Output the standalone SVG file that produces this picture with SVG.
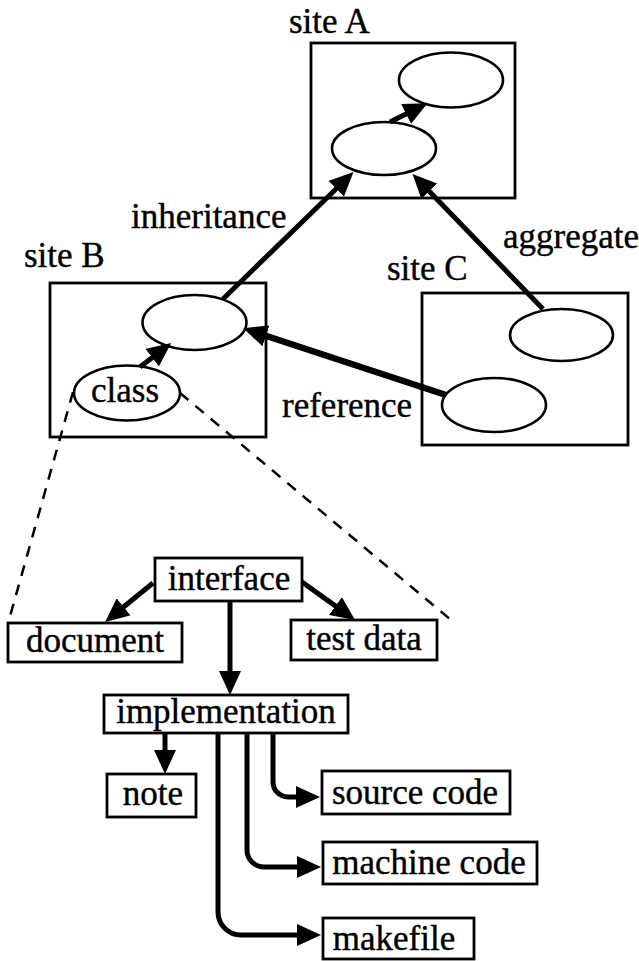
<svg xmlns="http://www.w3.org/2000/svg" width="639" height="961" viewBox="0 0 639 961">
<style>
text{font-family:"Liberation Serif","Times New Roman",serif;font-size:35px;fill:#000;stroke:#000;stroke-width:0.4}
.c{text-anchor:middle}
.box{fill:#fff;stroke:#000;stroke-width:2.8}
.ell{fill:#fff;stroke:#000;stroke-width:2.6}
.ln{fill:none;stroke:#000;stroke-width:5;marker-end:url(#ah)}
.dash{fill:none;stroke:#000;stroke-width:2.5;stroke-dasharray:11 9}
</style>
<defs>
<marker id="ah" markerUnits="userSpaceOnUse" markerWidth="26" markerHeight="22" refX="1" refY="11" orient="auto" viewBox="0 0 26 22">
<path d="M0,0 L24,11 L0,22 z" fill="#000"/>
</marker>
</defs>
<rect width="639" height="961" fill="#fff"/>

<g id="siteA">
<text x="289" y="33">site A</text>
<rect class="box" x="311" y="43" width="204" height="155"/>
</g>
<g id="siteB">
<text x="24" y="267">site B</text>
<rect class="box" x="50" y="283" width="216" height="154"/>
</g>
<g id="siteC">
<text x="387" y="280">site C</text>
<rect class="box" x="422" y="293" width="206" height="152"/>
</g>
<g id="labels">
<text x="131" y="228">inheritance</text>
<text x="503" y="248">aggregate</text>
<text x="282" y="417">reference</text>
</g>

<g id="dashes">
<path class="dash" d="M73,392 L9,620"/>
<path class="dash" d="M180,393 L451,620"/>
</g>

<g id="a-upper"><ellipse class="ell" cx="451" cy="80" rx="52" ry="27.5"/></g>
<g id="a-lower"><ellipse class="ell" cx="384" cy="148.5" rx="52" ry="26.5"/></g>
<g id="b-main"><ellipse class="ell" cx="194.5" cy="322.5" rx="52" ry="27.5"/></g>
<g id="class"><ellipse class="ell" cx="127" cy="393" rx="53" ry="27.5"/><text class="c" x="125" y="402">class</text></g>
<g id="c-upper"><ellipse class="ell" cx="561.5" cy="335" rx="51.5" ry="26"/></g>
<g id="c-lower"><ellipse class="ell" cx="494" cy="405" rx="52" ry="27"/></g>

<g id="interface"><rect class="box" x="155" y="558" width="147" height="43"/><text class="c" x="229" y="590">interface</text></g>
<g id="document"><rect class="box" x="8" y="623" width="174" height="39"/><text class="c" x="95" y="652">document</text></g>
<g id="testdata"><rect class="box" x="291" y="620" width="146" height="40"/><text class="c" x="364" y="650">test data</text></g>
<g id="implementation"><rect class="box" x="104" y="695" width="244" height="38"/><text class="c" x="226" y="723">implementation</text></g>
<g id="note"><rect class="box" x="107" y="774" width="89" height="43"/><text class="c" x="153" y="805">note</text></g>
<g id="sourcecode"><rect class="box" x="322" y="771" width="188" height="43"/><text class="c" x="415" y="804">source code</text></g>
<g id="machinecode"><rect class="box" x="323" y="842" width="214" height="42"/><text class="c" x="429" y="874">machine code</text></g>
<g id="makefile"><rect class="box" x="323" y="918" width="151" height="41"/><text class="c" x="394" y="950">makefile</text></g>

<g id="connectors">
<path class="ln" d="M390,122 L407,113.5"/>
<path class="ln" d="M223,299 L337,188"/>
<path class="ln" d="M543,309 L428.5,190.5" />
<path class="ln" d="M446,395 L265,335.5" style="stroke-width:6.5"/>
<path class="ln" d="M140,367 L153,357"/>
<path class="ln" d="M153,583 L122.9,607.5"/>
<path class="ln" d="M302,582 L336.3,606.6"/>
<path class="ln" d="M230,601 L230,672"/>
<path class="ln" d="M165,733 L165,751"/>
<path class="ln" d="M273,733 V782 A15,15 0 0 0 288,797 H297"/>
<path class="ln" d="M247,733 V850 A17,17 0 0 0 264,867 H298"/>
<path class="ln" d="M218,733 V912 A23,23 0 0 0 241,935 H298"/>
</g>
</svg>
